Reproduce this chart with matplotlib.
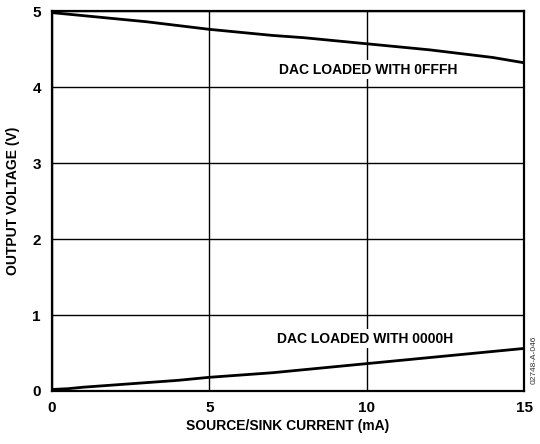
import matplotlib
matplotlib.use("Agg")
import matplotlib.pyplot as plt

plt.rcParams['font.family'] = ['Liberation Sans', 'DejaVu Sans']
plt.rcParams['font.weight'] = 'bold'

current_ma = [0, 0.5, 1, 2, 3, 4, 5, 6, 7, 8, 9, 10, 11, 12, 13, 14, 15]
v_0fffh = [4.98, 4.96, 4.94, 4.90, 4.86, 4.81, 4.76, 4.72, 4.68, 4.65, 4.61, 4.57, 4.53, 4.49, 4.44, 4.39, 4.32]
v_0000h = [0.02, 0.03, 0.05, 0.08, 0.11, 0.14, 0.18, 0.21, 0.24, 0.28, 0.32, 0.36, 0.40, 0.44, 0.48, 0.52, 0.56]

fig = plt.figure(figsize=(5.4, 4.44), dpi=100)
ax = fig.add_axes([0.0963, 0.1194, 0.8741, 0.8556])

ax.set_xlim(0, 15)
ax.set_ylim(0, 5)
ax.set_xticks([0, 5, 10, 15])
ax.set_yticks([0, 1, 2, 3, 4, 5])
ax.grid(True, color='black', linewidth=1.0)
ax.tick_params(length=0, labelsize=11)
ax.tick_params(axis='x', pad=7)
ax.tick_params(axis='y', pad=8)
for lab in ax.get_xticklabels() + ax.get_yticklabels():
    lab.set_fontweight('bold')
for s in ax.spines.values():
    s.set_linewidth(1.6)

ax.plot(current_ma, v_0fffh, color='black', linewidth=2.0)
ax.plot(current_ma, v_0000h, color='black', linewidth=2.0)

bbox = dict(facecolor='white', edgecolor='none', pad=2)
ax.text(10.05, 4.23, 'DAC LOADED WITH 0FFFH', ha='center', va='center',
        fontsize=10, fontweight='bold', bbox=bbox, zorder=3)
ax.text(9.95, 0.69, 'DAC LOADED WITH 0000H', ha='center', va='center',
        fontsize=10, fontweight='bold', bbox=bbox, zorder=3)

ax.set_xlabel('SOURCE/SINK CURRENT (mA)', fontsize=10, fontweight='bold', labelpad=3)
ax.set_ylabel('OUTPUT VOLTAGE (V)', fontsize=10, fontweight='bold', labelpad=9)

fig.text(0.995, 0.19, '02748-A-046', rotation=90, ha='right', va='center',
         fontsize=6, fontweight='normal', color='#333333')

fig.savefig('out.png', dpi=100)
